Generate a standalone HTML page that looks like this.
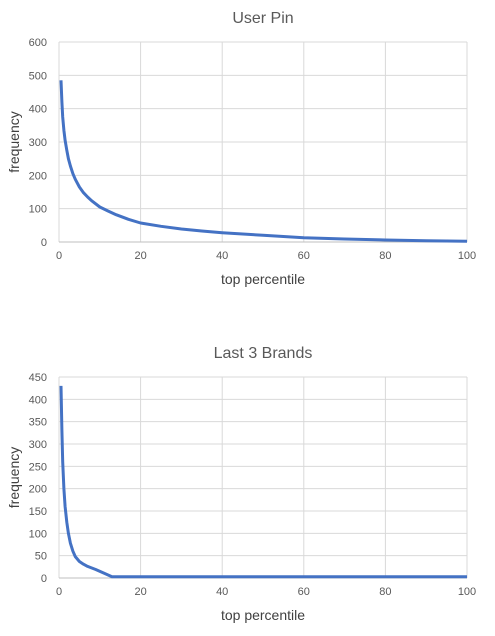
<!DOCTYPE html>
<html><head><meta charset="utf-8"><style>
body{margin:0;background:#fff;width:495px;height:631px;overflow:hidden}
svg{font-family:"Liberation Sans",sans-serif}
</style></head><body>
<svg id="svg" width="495" height="631"></svg>
<script>
const xTicks=[0,20,40,60,80,100];
const c1Title="User Pin";
const c1YTicks=[0,100,200,300,400,500,600];
const c1X=[0.5,0.7,0.9,1.2,1.5,1.9,2.3,2.8,3.4,4,5,6,7,8,10,12,14,17,20,25,30,35,40,50,60,70,80,90,100];
const c1Y=[485,420,375,335,305,275,250,228,205,188,165,148,135,124,105,93,82,68,57,47,39,33,28,20,13,9,6,4,2];
const c2Title="Last 3 Brands";
const c2YTicks=[0,50,100,150,200,250,300,350,400,450];
const c2X=[0.5,0.7,0.9,1.2,1.5,1.9,2.3,2.8,3.4,4,5,6,7,9,11,13,20,40,60,80,100];
const c2Y=[430,330,260,200,160,125,100,78,60,48,37,31,26,19,11,3,3,3,3,3,3];
const NS="http://www.w3.org/2000/svg";
const svg=document.getElementById('svg');
function mk(t,a,p){const e=document.createElementNS(NS,t);for(const k in a)e.setAttribute(k,a[k]);(p||svg).appendChild(e);return e;}
function chart(id,title,yTicks,xs,ys,top,bottom){
  const g=mk('g',{});
  
  
  const L=59,R=467,ymax=yTicks[yTicks.length-1];
  const sx=v=>L+(R-L)*v/100, sy=v=>bottom-(bottom-top)*v/ymax;
  const t=mk('text',{x:263,y:top-19,'text-anchor':'middle','font-size':16,fill:'#595959'},g);t.textContent=title;
  
  yTicks.forEach(v=>{const y=sy(v);
    mk('line',{x1:L,x2:R,y1:y,y2:y,stroke:'#d9d9d9','stroke-width':1},g);
    const l=mk('text',{x:47,y:y+4,'text-anchor':'end','font-size':11,fill:'#595959'},g);l.textContent=v;
    });
  xTicks.forEach(v=>{const x=sx(v);
    mk('line',{x1:x,x2:x,y1:top,y2:bottom,stroke:'#d9d9d9','stroke-width':1},g);
    const l=mk('text',{x:x,y:bottom+17,'text-anchor':'middle','font-size':11,fill:'#595959'},g);l.textContent=v;
    });
  mk('line',{x1:L,x2:R,y1:bottom,y2:bottom,stroke:'#bfbfbf'},g);
  const xt=mk('text',{x:263,y:bottom+42,'text-anchor':'middle','font-size':14,fill:'#404040'},g);xt.textContent='top percentile';
  
  const yc=(top+bottom)/2;
  const yt=mk('text',{x:19,y:yc,'text-anchor':'middle','font-size':14,fill:'#404040',transform:`rotate(-90 19 ${yc})`},g);yt.textContent='frequency';
  
  const d=xs.map((x,i)=>(i?'L':'M')+sx(x).toFixed(1)+','+sy(ys[i]).toFixed(1)).join(' ');
  const p=mk('path',{d:d,fill:'none',stroke:'#4472c4','stroke-width':3,'stroke-linejoin':'round'},g);
  
}
chart('user-pin-chart',c1Title,c1YTicks,c1X,c1Y,42,242);
chart('last-3-brands-chart',c2Title,c2YTicks,c2X,c2Y,377,578);
</script>
</body></html>
